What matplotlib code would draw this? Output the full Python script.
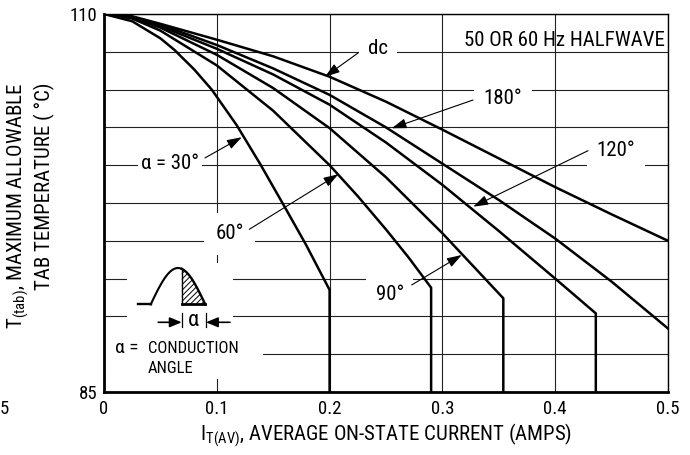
import matplotlib
matplotlib.use("Agg")
import matplotlib.pyplot as plt
import numpy as np
from matplotlib.patches import Rectangle

plt.rcParams['font.family'] = ['Roboto Condensed', 'DejaVu Sans']
plt.rcParams['mathtext.fontset'] = 'custom'
plt.rcParams['mathtext.rm'] = 'Roboto Condensed'
plt.rcParams['mathtext.it'] = 'Roboto Condensed'
plt.rcParams['hatch.linewidth'] = 0.7

# curves: average current (A) vs allowable tab temperature (C)
cur_dc = [0, 0.025, 0.05, 0.1, 0.15, 0.2, 0.25, 0.3, 0.35, 0.4, 0.45, 0.5]
temp_dc = [110, 109.85, 109.35, 108.3, 107.2, 105.85, 104.2, 102.35, 100.45, 98.55, 96.75, 95.0]

cur_180 = [0, 0.025, 0.05, 0.1, 0.15, 0.2, 0.25, 0.3, 0.35, 0.4, 0.45, 0.5]
temp_180 = [110, 109.8, 109.3, 107.95, 106.4, 104.65, 102.5, 100.1, 97.7, 95.15, 92.3, 89.2]

cur_120 = [0, 0.025, 0.05, 0.1, 0.15, 0.2, 0.25, 0.3, 0.35, 0.4, 0.436, 0.436]
temp_120 = [110, 109.8, 109.2, 107.7, 106.0, 104.0, 101.5, 98.7, 95.65, 92.5, 90.2, 85]

cur_90 = [0, 0.025, 0.05, 0.1, 0.15, 0.2, 0.25, 0.3, 0.354, 0.354]
temp_90 = [110, 109.75, 109.1, 107.3, 105.1, 102.45, 99.2, 95.5, 91.2, 85]

cur_60 = [0, 0.025, 0.05, 0.1, 0.15, 0.2, 0.225, 0.25, 0.27, 0.29, 0.29]
temp_60 = [110, 109.7, 108.9, 106.6, 103.6, 100.0, 97.95, 95.75, 93.9, 91.9, 85]

cur_30 = [0, 0.025, 0.05, 0.0625, 0.08, 0.0955, 0.1176, 0.1383, 0.1605, 0.179, 0.1944, 0.2, 0.2]
temp_30 = [110, 109.52, 108.39, 107.62, 106.33, 105.0, 102.65, 100.1, 97.2, 94.75, 92.55, 91.75, 85]

x_ticks = [0, 0.1, 0.2, 0.3, 0.4, 0.5]
x_tick_labels = ['0', '0.1', '0.2', '0.3', '0.4', '0.5']
y_grid = [85, 87.5, 90, 92.5, 95, 97.5, 100, 102.5, 105, 107.5, 110]
y_tick_labels = ['85', '', '', '', '', '', '', '', '', '', '110']

fig = plt.figure(figsize=(6.9, 4.55), dpi=100)
ax = fig.add_axes([104 / 690, 63 / 455, 564 / 690, 378 / 455])
ax.set_xlim(0, 0.5)
ax.set_ylim(85, 110)

ax.set_xticks(x_ticks)
ax.set_xticklabels(x_tick_labels)
ax.set_yticks(y_grid)
ax.set_yticklabels(y_tick_labels)
ax.tick_params(length=0, labelsize=13.5)
ax.tick_params(axis='x', pad=6)
ax.tick_params(axis='y', pad=5)
ax.set_axisbelow(True)
ax.grid(True, color='#222222', lw=0.8)

for side in ['left', 'bottom']:
    ax.spines[side].set_linewidth(2.0)
for side in ['top', 'right']:
    ax.spines[side].set_linewidth(1.0)

# curves
for cx, ty in [(cur_dc, temp_dc), (cur_180, temp_180), (cur_120, temp_120),
               (cur_90, temp_90), (cur_60, temp_60), (cur_30, temp_30)]:
    ax.plot(cx, ty, color='k', lw=1.8, solid_joinstyle='round', zorder=3)

# white areas behind the inset sketch
ax.add_patch(Rectangle((0.0204, 88.44), 0.094, 5.09, fc='white', ec='none', zorder=1))
ax.add_patch(Rectangle((0.0, 85.86), 0.141, 2.58, fc='white', ec='none', zorder=1))

box = dict(boxstyle='square,pad=0.45', fc='white', ec='none')
arrow = dict(arrowstyle='-|>,head_length=0.6,head_width=0.2', color='k', lw=0.8,
             shrinkA=0, shrinkB=0, mutation_scale=15)


def label(text, pos, start, tip, pad=0.45):
    b = dict(box)
    b['boxstyle'] = 'square,pad=%s' % pad
    ax.text(pos[0], pos[1], text, ha='center', va='center', fontsize=15,
            bbox=b, zorder=4)
    ax.annotate('', xy=tip, xytext=start, arrowprops=arrow, zorder=4)


label('dc', (0.243, 107.75), (0.2252, 107.42), (0.1959, 105.85))
label('180°', (0.3537, 104.42), (0.3271, 104.31), (0.2550, 102.44))
label('120°', (0.4539, 101.0), (0.4291, 100.96), (0.3274, 97.26))
label('90°', (0.2535, 91.42), (0.2728, 92.08), (0.3171, 94.06))
label('60°', (0.1114, 95.46), (0.1288, 95.76), (0.2077, 99.40), pad=0.55)
label('α = 30°', (0.0585, 100.08), (0.0895, 100.48), (0.1221, 101.85), pad=0.15)

ax.text(0.4975, 108.28, '50 OR 60 Hz HALFWAVE', ha='right', va='center', fontsize=15,
        zorder=4)

# conduction angle sketch
x0, x1, cut = 0.0414, 0.0898, 0.0689
base, amp = 90.79, 2.41
xs = np.linspace(x0, x1, 80)
ys = base + amp * np.sin(np.pi * (xs - x0) / (x1 - x0))
ax.plot([0.0304, x0], [base, base], color='k', lw=1.7, zorder=3)
ax.plot(xs[xs <= cut], ys[xs <= cut], color='k', lw=1.5, zorder=3)
ax.plot(xs[xs >= cut], ys[xs >= cut], color='k', lw=1.7, zorder=3)
ax.plot([cut, cut], [base, base + amp * np.sin(np.pi * (cut - x0) / (x1 - x0))],
        color='k', lw=1.0, zorder=3)
ax.plot([cut, x1], [base, base], color='k', lw=2.0, zorder=3)
ax.fill_between(xs[xs >= cut], base, ys[xs >= cut], facecolor='white',
                edgecolor='k', hatch='//////', lw=0, zorder=2)

small = dict(arrowstyle='-|>,head_length=0.6,head_width=0.25', color='k', lw=1.2,
             shrinkA=0, shrinkB=0, mutation_scale=12)
ax.annotate('', xy=(cut, 89.61), xytext=(0.0481, 89.61), arrowprops=small, zorder=4)
ax.annotate('', xy=(0.0904, 89.61), xytext=(0.1117, 89.61), arrowprops=small, zorder=4)
ax.plot([cut, cut], [89.30, 90.22], color='k', lw=0.9, zorder=3)
ax.plot([0.0904, 0.0904], [89.30, 90.22], color='k', lw=0.9, zorder=3)
ax.text(0.0796, 89.72, 'α', ha='center', va='center', fontsize=16, zorder=4)
ax.text(0.0199, 87.91, 'α =', ha='center', va='center', fontsize=14, zorder=4)
ax.text(0.039, 87.88, 'CONDUCTION', ha='left', va='center', fontsize=12, zorder=4)
ax.text(0.039, 86.55, 'ANGLE', ha='left', va='center', fontsize=12, zorder=4)

# axis titles
fig.text(386 / 690, 1 - 440 / 455, r'I$_{\mathrm{T(AV)}}$, AVERAGE ON-STATE CURRENT (AMPS)',
         ha='center', va='baseline', fontsize=15)
fig.text(18 / 690, 1 - 83 / 455, r'T$_{\mathrm{(tab)}}$, MAXIMUM ALLOWABLE',
         rotation=90, ha='center', va='top', fontsize=15)
fig.text(44 / 690, 1 - 83 / 455, 'TAB TEMPERATURE ( °C)',
         rotation=90, ha='center', va='top', fontsize=15)
fig.text(0, 1 - 409 / 455, '5', ha='left', va='center', fontsize=13.5)

fig.savefig('out.png', dpi=100)
